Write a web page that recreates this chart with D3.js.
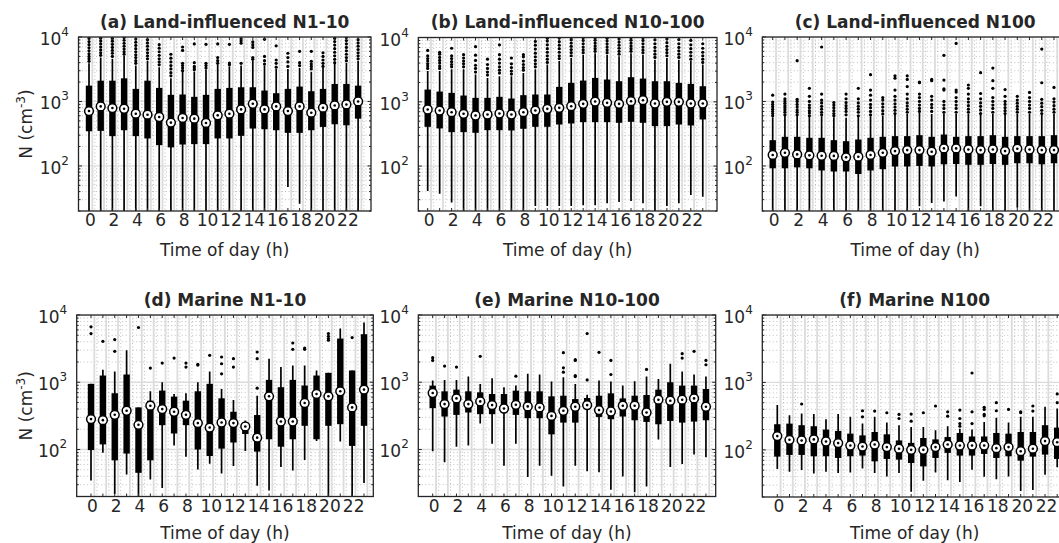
<!DOCTYPE html>
<html><head><meta charset="utf-8">
<script src="https://cdn.jsdelivr.net/npm/d3@7/dist/d3.min.js"></script>
<style>
body{margin:0;background:#fff}
svg{display:block}
text{font-family:"DejaVu Sans",sans-serif;fill:#262626}
</style>
</head><body>
<svg id="chart" width="1059" height="543"></svg>
<script>
// ---------- categories & labels ----------
const hours = [0,1,2,3,4,5,6,7,8,9,10,11,12,13,14,15,16,17,18,19,20,21,22,23];
const xTickHours = [0,2,4,6,8,10,12,14,16,18,20,22];
const xTickLabels = ["0","2","4","6","8","10","12","14","16","18","20","22"];
const yTickValues = [100, 1000, 10000];
const yTickExponents = ["2","3","4"];
const titles = ["(a) Land-influenced N1-10","(b) Land-influenced N10-100","(c) Land-influenced N100",
                "(d) Marine N1-10","(e) Marine N10-100","(f) Marine N100"];
const xLabel = "Time of day (h)";

// ---------- (a) Land-influenced N1-10 ----------
const aQ1  = [345,350,290,358,290,267,210,194,215,218,218,267,267,293,380,371,358,326,326,358,403,443,427,541];
const aMed = [710,838,790,771,646,623,574,470,555,541,464,609,646,753,921,753,838,710,838,669,800,867,899,1000];
const aQ3  = [1760,2100,2100,2285,1567,2100,1623,1267,1282,1180,1267,1567,1623,1662,1662,1477,1343,1567,1702,1442,1567,1870,1870,1760];
const aWLo = [15,15,15,15,15,15,15,15,15,15,15,15,15,15,15,15,15,47,26,15,15,15,15,15];
const aWHi = [3900,4800,4600,5100,3600,4300,3400,2300,2900,2900,3100,3700,3500,3600,4300,3600,3200,3200,3300,2900,3300,3800,4000,4300];
const aOut = [
 [4200,4600,5000,5500,6100,6800,7600,8500,9500],
 [5200,5700,6300,7000,7800,8700,9600],
 [5000,5600,6200,6900,7700,8600,9500],
 [5400,5900,6500,7200,8000,8900,9800],
 [3900,4300,4800,5300,5900,6600,7400,8300,9300],
 [4600,5100,5700,6400,7200,8100,9100],
 [3700,4100,4600,5200,5900,6700,7600],
 [2500,2800,3200,3600,4100,4700,5400],
 [3000,3300,3600,3900,6200,7000],
 [3100,3300,3500,4000,7800],
 [3300,3600,3900,7700],
 [3900,4300,4800,7800],
 [3700,3950,7700],
 [3900,8000,8700,9400],
 [4500,4800,6900,7600,8400],
 [3800,4300,5000,9200],
 [3400,3900,4400,7300],
 [3500,4100,4800,5600],
 [3600,4000,6000],
 [3200,3500,3800,4200,6000],
 [3500,3900,4400,5000,5700],
 [4000,4500,5100,5800,6600,7500,8500,9500],
 [4300,4800,5400,6100,6900,7800,8800,9800],
 [4600,5100,5700,6400,7200,8100,9100]];

// ---------- (b) Land-influenced N10-100 ----------
const bQ1  = [408,385,337,337,329,362,362,358,380,408,408,443,460,482,482,482,471,488,471,418,418,443,428,531];
const bMed = [759,731,689,650,612,634,657,634,689,731,776,805,854,929,1009,962,929,1021,1059,940,997,997,940,940];
const bQ3  = [1549,1442,1376,1251,1151,1151,1194,1124,1267,1297,1297,1706,1967,2138,2353,2218,2089,2410,2296,2089,2089,1967,1898,1746];
const bWLo = [41,37,27,15,15,15,15,15,15,24,24,24,24,24.5,24.5,26.3,27.6,28.6,26.3,15,24,26.3,35.5,33.4];
const bWHi = [3000,3000,3200,3200,2650,2350,2500,2500,2800,3200,3800,4300,4800,5400,5700,5400,5100,5700,5400,4500,4800,4500,4300,3800];
const bOut = [
 [3300,3600,3900,4300,4700,5200,6300],
 [3300,3600,4000,4400,4900,5500,5900],
 [3500,3800,4200,4700,5200,6800],
 [3500,3900,4300,4800,5400],
 [2900,3300,3700,4400,5300,7200],
 [2600,2900,3300,3800,4600],
 [2800,3100,3500,4000,4600,5400,7700],
 [2700,3000,3400,3900,4800],
 [3100,3400,3800,4300,5000,5400],
 [3500,3900,4400,5000,5700,6600,7600,8700],
 [4100,4600,5200,5900,6700,7700,8800,9700],
 [4700,5200,5900,6700,7600,8600,9800],
 [5200,5800,6500,7300,8200,9200,10000],
 [5800,6400,7100,8000,9000,9900],
 [6100,6700,7400,8200,9100,9900],
 [5800,6400,7100,7900,8800,9700],
 [5500,6100,6800,7600,8500,9500],
 [6100,6700,7400,8200,9100,9900],
 [5800,6400,7100,8000,9000,9900],
 [4900,5500,6200,7000,8000,9200],
 [5200,5800,6500,7300,8300,9500],
 [4900,5500,6200,7000,8000,9300],
 [4600,5200,5900,6700,7700,9000],
 [4100,4600,5200,5900,6800,8000]];

// ---------- (c) Land-influenced N100 ----------
const cQ1  = [92,92,95,92,85,82,82,75,85,89,98,98,100,98,106,107,104,104,107,104,110,110,106,110];
const cMed = [148,160,151,146,144,143,136,139,148,160,170,176,176,166,187,187,180,176,180,170,185,180,176,176];
const cQ3  = [251,283,283,273,273,251,242,257,273,283,290,290,300,283,307,283,290,290,300,283,290,290,290,300];
const cWLo = [15,15,15,15,15,15,15,15,15,15,15,15,23.7,26.6,28,33.7,15,23.7,15,15,22.5,15,15,15];
const cWHi = [570,600,600,590,590,570,560,580,590,600,620,640,660,640,650,640,640,620,640,620,640,640,620,640];
const cOut = [
 [600,650,700,760,830,900,980,1250],
 [620,680,740,800,860,940,1020,1100,1300],
 [620,680,740,820,900,1000,1080,4300],
 [600,660,720,800,880,1000,1200,1600],
 [620,680,760,840,950,1050,1300,7000],
 [600,650,720,800,880,960],
 [620,700,780,860,960,1100,1300],
 [600,680,760,840,950,1100,1600],
 [620,700,800,900,1050,1250,1500,2600],
 [640,720,820,920,1050,1150],
 [650,730,820,920,1050,1200,1500,2300,2500],
 [680,760,850,950,1100,1300,1700,2200,2500],
 [700,780,880,1000,1150,1300,1950,2000],
 [700,800,900,1050,1200,2100,2200],
 [680,780,880,1000,1500,1570,2150,5200],
 [680,780,880,1000,1150,1400,1500,7950],
 [680,760,860,980,1100,1300,1600,1800],
 [650,740,840,950,1100,1330,2800],
 [680,780,880,1000,1150,1600,2100,3300],
 [650,720,800,900,1000,1200,1530],
 [680,760,840,940,1050,1200],
 [680,780,880,1000,1150,1380],
 [650,730,830,940,1080,1950,6500],
 [680,760,860,980,1100,1650]];

// ---------- (d) Marine N1-10 ----------
const dQ1  = [98,119,69,87,45,69,230,173,230,100,80,103,127,170,93,142,110,142,225,142,225,238,113,225];
const dMed = [283,273,328,377,233,448,399,364,328,247,212,252,247,220,150,618,261,261,491,670,618,734,423,778];
const dQ3  = [946,1259,686,1303,423,532,751,611,532,734,946,577,364,240,325,1084,844,1084,894,1259,1380,4460,1496,5180];
const dWLo = [34.5,89.7,21.8,42.5,15,35.7,26.8,115,78,50.5,61.4,44,56.6,95,29,24.5,54.7,48.8,70,134,15,131,15,31.8];
const dWHi = [946,1531,1445,2986,423,734,1000,670,686,1000,1445,796,545,270,632,2239,1680,1778,1778,1496,1380,6300,1496,7740];
const dOut = [
 [6670,5300],[4060],[4305,2883],[],[6518],[1622],[1926],[2291],[1926,1680],[1841,1800],[2513],
 [2372,1884,1333],[2239,1680],[],[2818,2239,815],[],[],[3836,3085],[3229,3085],[],
 [5300,4830,4460,4210],[],[4610],[]];

// ---------- (e) Marine N10-100 ----------
const eQ1  = [412,309,327,355,335,335,355,327,292,292,168,251,251,407,305,282,309,272,257,237,266,251,260,272];
const eMed = [692,473,575,473,519,457,407,462,437,422,316,376,432,457,385,367,447,447,355,550,531,550,575,432];
const eQ3  = [891,733,776,733,708,668,668,750,733,733,617,631,562,582,631,684,575,631,646,776,1000,891,891,794];
const eWLo = [94.4,64.6,110,115,243,122,57.5,122,38.9,57.5,40.7,28.2,57.5,47.3,45.7,25.1,39.8,23.2,28.2,141,55,61,84,76.7];
const eWHi = [1059,1084,1084,1216,944,1148,841,891,1334,1303,1023,1189,944,653,1059,1023,891,1035,1216,1122,1884,1445,1303,1216];
const eOut = [
 [2317,2113],[1738],[1679],[],[2427],[],[],[1230],[],[],[],[2754,1641,1413],[2163,2113,1259,1216],
 [5309,1084],[2786],[2113,1303],[],[],[1549],[],[],[2661,2291],[2884],[2113,1820]];

// ---------- (f) Marine N100 ----------
const fQ1  = [79.4,84.1,84.1,80.4,80.4,75.9,80.4,82.2,67.6,73.3,71.6,63.8,56.9,75.9,90.2,82.2,82.2,87.1,75.9,80.4,69.2,79.4,85.1,73.3];
const fMed = [160,141,138,143,133,126,116,112,120,110,104,100,100,110,120,116,116,116,106,110,95.5,104,135,130];
const fQ3  = [240,245,232,224,200,191,174,164,184,170,138,127,150,143,155,178,158,158,178,174,184,184,232,214];
const fWLo = [51.9,47.3,50.1,44.7,47.3,45.2,46.2,53.1,45.2,40.3,45.2,24,34.7,46.2,35.5,33.5,50.7,39.8,36.7,40.3,24.5,25.4,42.7,55];
const fWHi = [462,327,347,339,285,339,309,245,309,254,232,219,219,195,224,205,200,260,299,254,309,309,437,412];
const fOut = [
 [],[],[479],[],[],[],[],[380,309],[376],[355],[335,292],[339,266],[355],[447],[367,316],
 [389,292,245,224],[1380,367,245],[427,398,335,320],[501,380],[398],[367,355],[447,376],[],[676,501]];

const panelData = [
 {q1:aQ1, med:aMed, q3:aQ3, lo:aWLo, hi:aWHi, out:aOut},
 {q1:bQ1, med:bMed, q3:bQ3, lo:bWLo, hi:bWHi, out:bOut},
 {q1:cQ1, med:cMed, q3:cQ3, lo:cWLo, hi:cWHi, out:cOut},
 {q1:dQ1, med:dMed, q3:dQ3, lo:dWLo, hi:dWHi, out:dOut},
 {q1:eQ1, med:eMed, q3:eQ3, lo:eWLo, hi:eWHi, out:eOut},
 {q1:fQ1, med:fMed, q3:fQ3, lo:fWLo, hi:fWHi, out:fOut}];

// ---------- layout (pixels) ----------
const layouts = [
 {l:78.5, r:371,  t:37,  b:211,   x0:89,    dx:11.7,  yLabel:true,  xlab:256},
 {l:418.3,r:717,  t:37.5,b:211,   x0:427.7, dx:11.96, yLabel:false, xlab:256},
 {l:762.3,r:1068, t:37,  b:211,   x0:772.7, dx:12.23, yLabel:false, xlab:256},
 {l:76.7, r:373.3,t:315, b:496.5, x0:91,    dx:11.87, yLabel:true,  xlab:539},
 {l:418.3,r:715.7,t:315, b:496.5, x0:432.7, dx:11.88, yLabel:false, xlab:539},
 {l:762.3,r:1067, t:315, b:497,   x0:777.3, dx:12.17, yLabel:false, xlab:539}];

const svg = d3.select("#chart");
const defs = svg.append("defs");
const ink = "#262626";

layouts.forEach((L, i) => {
  const D = panelData[i];
  const x = d3.scaleLinear().domain([(L.l - L.x0) / L.dx, (L.r - L.x0) / L.dx]).range([L.l, L.r]);
  const y = d3.scaleLog().domain([20, 10000]).range([L.b, L.t]);
  const g = svg.append("g");
  const clipId = "clip" + i;
  defs.append("clipPath").attr("id", clipId).append("rect")
    .attr("x", L.l).attr("y", L.t).attr("width", L.r - L.l).attr("height", L.b - L.t);

  const grid = g.append("g").attr("clip-path", `url(#${clipId})`);
  const yt = y.ticks();
  const isMajor = v => Math.abs(Math.log10(v) - Math.round(Math.log10(v))) < 1e-9;
  grid.selectAll("line.ymin").data(yt.filter(v => !isMajor(v))).join("line")
    .attr("x1", L.l).attr("x2", L.r).attr("y1", d => y(d)).attr("y2", d => y(d))
    .attr("stroke", "#b8b8b8").attr("stroke-width", 0.9).attr("stroke-dasharray", "1,2.5");
  grid.selectAll("line.xmin").data(hours).join("line")
    .attr("x1", d => x(d + 0.5)).attr("x2", d => x(d + 0.5)).attr("y1", L.t).attr("y2", L.b)
    .attr("stroke", "#b8b8b8").attr("stroke-width", 0.9).attr("stroke-dasharray", "1,2.5");
  grid.selectAll("line.ymaj").data(yt.filter(isMajor)).join("line")
    .attr("x1", L.l).attr("x2", L.r).attr("y1", d => y(d)).attr("y2", d => y(d))
    .attr("stroke", "#dcdcdc").attr("stroke-width", 1.3);
  grid.selectAll("line.xmaj").data(hours).join("line")
    .attr("x1", d => x(d) + 3.3).attr("x2", d => x(d) + 3.3).attr("y1", L.t).attr("y2", L.b)
    .attr("stroke", "#dcdcdc").attr("stroke-width", 1.8);

  const marks = g.append("g").attr("clip-path", `url(#${clipId})`);
  hours.forEach((h, k) => {
    const cx = x(h);
    marks.append("line").attr("x1", cx).attr("x2", cx)
      .attr("y1", y(Math.max(D.lo[k], 5))).attr("y2", y(D.hi[k]))
      .attr("stroke", "#000").attr("stroke-width", 1.7);
    marks.append("rect").attr("x", cx - 3.2).attr("width", 6.4)
      .attr("y", y(D.q3[k])).attr("height", y(D.q1[k]) - y(D.q3[k])).attr("fill", "#000");
    marks.selectAll(null).data(D.out[k]).join("circle")
      .attr("cx", cx).attr("cy", d => y(d)).attr("r", 1.6).attr("fill", "#000");
  });
  const meds = g.append("g");
  hours.forEach((h, k) => {
    meds.append("circle").attr("cx", x(h)).attr("cy", y(D.med[k])).attr("r", 4.4)
      .attr("fill", "#fff").attr("stroke", "#000").attr("stroke-width", 1.5);
    meds.append("circle").attr("cx", x(h)).attr("cy", y(D.med[k])).attr("r", 1.3).attr("fill", "#000");
  });

  const ax = g.append("g");
  ax.append("rect").attr("x", L.l).attr("y", L.t).attr("width", L.r - L.l).attr("height", L.b - L.t)
    .attr("fill", "none").attr("stroke", ink).attr("stroke-width", 1.3);
  hours.forEach(h => {
    ax.append("line").attr("x1", x(h)).attr("x2", x(h)).attr("y1", L.b).attr("y2", L.b - 3).attr("stroke", ink);
    ax.append("line").attr("x1", x(h)).attr("x2", x(h)).attr("y1", L.t).attr("y2", L.t + 3).attr("stroke", ink);
  });
  yt.forEach(v => {
    const len = isMajor(v) ? 3.5 : 2;
    ax.append("line").attr("x1", L.l).attr("x2", L.l + len).attr("y1", y(v)).attr("y2", y(v)).attr("stroke", ink);
    ax.append("line").attr("x1", L.r).attr("x2", L.r - len).attr("y1", y(v)).attr("y2", y(v)).attr("stroke", ink);
  });

  g.selectAll("text.xt").data(xTickHours).join("text")
    .attr("x", d => x(d) + 1.5).attr("y", L.b + 15).attr("text-anchor", "middle")
    .attr("font-size", 17).text((d, j) => xTickLabels[j]);
  yTickValues.forEach((v, j) => {
    const t = g.append("text").attr("x", L.l - 9.5).attr("y", y(v) + 8).attr("text-anchor", "end").attr("font-size", 17);
    t.append("tspan").text("10");
    t.append("tspan").attr("dy", -9).attr("font-size", 12).text(yTickExponents[j]);
  });
  g.append("text").attr("x", (L.l + L.r) / 2).attr("y", L.t - 9.5).attr("text-anchor", "middle")
    .attr("font-size", 17).attr("font-weight", "bold").text(titles[i]);
  g.append("text").attr("x", (L.l + L.r) / 2).attr("y", L.xlab).attr("text-anchor", "middle")
    .attr("font-size", 17).text(xLabel);
  if (L.yLabel) {
    const cy = (L.t + L.b) / 2;
    const t = g.append("text").attr("transform", `translate(31.5,${cy}) rotate(-90)`)
      .attr("text-anchor", "middle").attr("font-size", 17);
    t.append("tspan").text("N (cm");
    t.append("tspan").attr("dy", -7).attr("font-size", 12).text("-3");
    t.append("tspan").attr("dy", 7).text(")");
  }
});
</script>
</body></html>
